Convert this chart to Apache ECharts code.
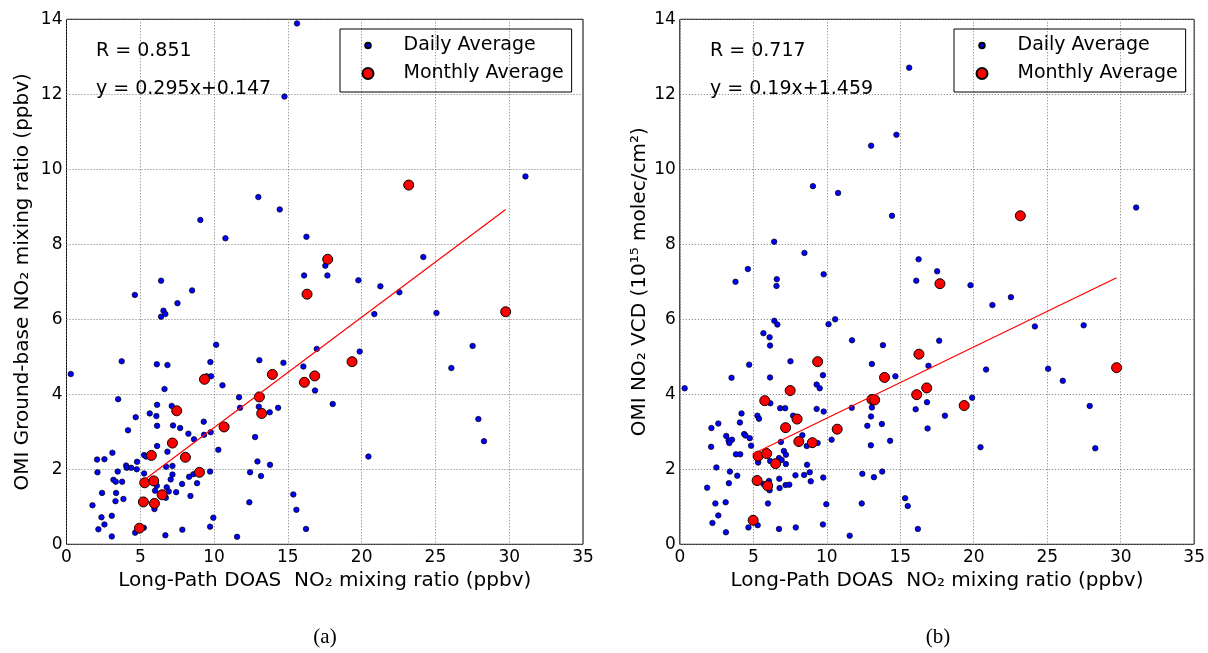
<!DOCTYPE html>
<html><head><meta charset="utf-8">
<script src="https://cdn.jsdelivr.net/npm/echarts@6/dist/echarts.min.js"></script>
<style>html,body{margin:0;padding:0;background:#fff}#c{width:1208px;height:653px}</style>
</head><body><div id="c"></div>
<script>
// ---------- data ----------
const xTicks = { min: 0, max: 35, step: 5 };
const yTicks = { min: 0, max: 14, step: 2 };

const dailyA = [[0.29,4.54],[7.52,6.43],[6.41,6.07],[6.57,6.23],[6.70,6.14],[3.74,4.88],[6.12,4.80],[6.84,4.78],[10.14,5.32],[9.75,4.86],[9.50,4.48],[9.80,4.48],[10.57,4.24],[6.64,4.14],[3.50,3.87],[11.69,3.92],[13.07,4.91],[14.70,4.84],[16.05,4.74],[16.84,4.10],[11.76,3.64],[13.03,3.67],[13.77,3.52],[14.34,3.64],[6.14,3.72],[5.64,3.49],[6.09,3.42],[7.13,3.69],[4.69,3.39],[6.14,3.16],[7.22,3.17],[7.70,3.10],[4.17,3.04],[8.26,2.95],[8.64,2.80],[9.30,3.27],[9.32,2.92],[9.77,2.99],[6.14,2.62],[6.84,2.47],[10.29,2.52],[12.78,2.86],[3.11,2.44],[5.26,2.38],[5.39,2.34],[2.07,2.26],[2.57,2.27],[4.78,2.20],[4.04,2.10],[4.08,2.04],[4.38,2.04],[4.76,2.00],[2.10,1.92],[3.47,1.94],[5.26,1.89],[7.18,2.09],[7.18,1.86],[6.75,2.07],[9.73,1.94],[12.94,2.21],[13.79,2.12],[12.44,1.92],[13.18,1.82],[8.31,1.80],[8.60,1.87],[8.85,1.63],[7.83,1.61],[7.06,1.73],[3.18,1.72],[3.34,1.67],[3.77,1.67],[6.12,1.56],[6.79,1.52],[6.00,1.43],[6.93,1.41],[7.43,1.39],[2.41,1.37],[3.36,1.37],[8.40,1.29],[3.86,1.21],[3.32,1.15],[6.73,1.24],[1.76,1.04],[12.39,1.12],[15.37,1.33],[15.58,0.92],[5.96,0.94],[2.37,0.72],[3.07,0.76],[9.95,0.71],[2.57,0.53],[2.16,0.40],[4.65,0.31],[5.24,0.44],[7.85,0.39],[9.73,0.47],[3.07,0.21],[6.70,0.24],[11.56,0.20],[16.23,0.41],[16.96,5.21],
[15.62,13.89],[14.77,11.94],[13.00,9.26],[14.45,8.93],[9.07,8.65],[10.77,8.16],[16.26,8.20],[31.10,9.81],[24.18,7.66],[16.10,7.17],[17.54,7.43],[17.68,7.17],[19.78,7.04],[21.27,6.88],[22.56,6.72],[4.63,6.65],[6.41,7.03],[8.51,6.77],
[20.86,6.14],[25.07,6.17],[19.87,5.14],[27.52,5.29],[26.08,4.70],[18.04,3.74],[27.91,3.34],[28.29,2.75],[20.46,2.34]];

const monthlyA = [[4.94,0.43],[5.21,1.13],[5.30,1.64],[5.75,2.37],[5.91,1.69],[5.96,1.09],[6.48,1.32],[7.18,2.70],[7.47,3.56],[8.06,2.32],[9.01,1.92],[9.35,4.40],[10.68,3.13],[13.07,3.93],[13.23,3.49],[13.95,4.53],[16.12,4.32],[16.82,4.49],[16.30,6.67],[17.70,7.60],[19.35,4.87],[23.19,9.58],[29.76,6.20]];

const fitA = [[4.94,1.62],[29.76,8.93]];

const dailyB = [[0.33,4.16],[6.43,5.96],[6.64,5.86],[5.69,5.63],[6.11,5.52],[6.14,5.30],[10.12,5.87],[10.57,6.00],[11.72,5.44],[13.82,5.31],[4.72,4.79],[7.53,4.88],[13.07,4.81],[3.52,4.44],[6.14,4.45],[9.74,4.51],[9.31,4.26],[9.52,4.16],[14.67,4.48],[16.92,4.76],[6.16,3.76],[6.83,3.63],[7.17,3.63],[9.31,3.61],[9.79,3.54],[11.70,3.64],[13.07,3.65],[13.01,3.41],[13.75,3.21],[12.76,3.16],[5.28,3.43],[5.39,3.35],[4.20,3.49],[4.09,3.25],[2.62,3.22],[2.15,3.10],[7.71,3.43],[8.34,2.91],[6.88,2.73],[3.16,2.89],[3.32,2.77],[3.55,2.79],[3.37,2.70],[4.38,2.94],[4.47,2.90],[4.76,2.83],[4.85,2.63],[2.13,2.60],[3.82,2.40],[4.11,2.40],[7.08,2.49],[7.22,2.39],[8.64,2.62],[9.38,2.70],[10.33,2.79],[13.00,2.64],[14.31,2.76],[2.49,2.05],[3.41,1.94],[3.91,1.83],[5.33,2.18],[6.15,2.22],[6.75,2.30],[6.93,2.25],[7.22,2.14],[8.66,2.12],[8.84,1.92],[7.87,1.84],[8.46,1.85],[8.91,1.68],[9.76,1.78],[12.42,1.88],[13.21,1.79],[13.77,1.94],[1.86,1.51],[3.34,1.63],[5.69,1.61],[6.07,1.69],[6.11,1.44],[6.77,1.75],[6.79,1.50],[7.20,1.58],[7.45,1.59],[2.42,1.09],[3.12,1.12],[6.00,1.09],[9.97,1.07],[12.38,1.09],[15.33,1.23],[15.51,1.02],[2.62,0.77],[2.22,0.57],[3.14,0.32],[4.67,0.45],[5.30,0.51],[6.75,0.41],[7.89,0.45],[9.74,0.53],[11.56,0.23],[16.20,0.41],[16.82,3.79],[16.86,3.09],[16.05,3.60],
[15.61,12.71],[14.74,10.92],[13.02,10.63],[9.06,9.55],[10.77,9.37],[14.44,8.76],[31.05,8.98],[6.42,8.07],[8.48,7.77],[4.63,7.34],[3.79,7.00],[6.60,7.07],[6.58,6.89],[9.79,7.20],[16.25,7.60],[17.51,7.28],[16.09,7.03],[19.78,6.91],[22.53,6.59],
[21.27,6.38],[24.16,5.81],[27.48,5.84],[17.65,5.43],[20.84,4.66],[25.06,4.68],[26.06,4.36],[19.89,3.91],[18.04,3.43],[27.89,3.69],[20.46,2.59],[28.27,2.56]];

const monthlyB = [[4.99,0.64],[5.26,1.70],[5.33,2.35],[5.78,3.83],[5.91,2.42],[5.98,1.56],[6.52,2.15],[7.20,3.11],[7.51,4.10],[7.98,3.34],[8.10,2.74],[9.02,2.71],[9.38,4.87],[10.71,3.07],[13.07,3.86],[13.26,3.85],[13.93,4.45],[16.12,3.99],[16.27,5.07],[16.80,4.17],[17.70,6.95],[19.35,3.70],[23.17,8.76],[29.72,4.71]];

const fitB = [[4.94,2.40],[29.72,7.11]];

const seriesNames = ['Daily Average', 'Monthly Average'];
const statsA = ['R = 0.851', 'y = 0.295x+0.147'];
const statsB = ['R = 0.717', 'y = 0.19x+1.459'];
const xTitle = 'Long-Path DOAS  NO\u2082 mixing ratio (ppbv)';
const yTitleA = 'OMI Ground-base NO\u2082 mixing ratio (ppbv)';
const yTitleB = 'OMI NO\u2082 VCD (10\u00b9\u2075 molec/cm\u00b2)';
const captions = ['(a)', '(b)'];

// ---------- chart ----------
const FONT = 'DejaVu Sans';
const grids = [
  { left: 66.5, top: 19.3, width: 516.5, height: 525, show: true, borderColor: '#000', borderWidth: 1, backgroundColor: 'transparent' },
  { left: 679.8, top: 19.3, width: 516.5, height: 525, show: true, borderColor: '#000', borderWidth: 1, backgroundColor: 'transparent' }
];
function xAx(i) {
  return {
    type: 'value', gridIndex: i, min: xTicks.min, max: xTicks.max, interval: xTicks.step,
    name: xTitle, nameLocation: 'middle', nameGap: 24,
    nameTextStyle: { fontFamily: FONT, fontSize: 20, color: '#000' },
    axisLine: { show: false }, axisTick: { show: false },
    axisLabel: { fontFamily: FONT, fontSize: 17, color: '#000', margin: 5 },
    splitLine: { show: true, lineStyle: { color: '#777', type: [1, 2], width: 1 } }
  };
}
function yAx(i, title) {
  return {
    type: 'value', gridIndex: i, min: yTicks.min, max: yTicks.max, interval: yTicks.step,
    name: title, nameLocation: 'middle', nameGap: i === 0 ? 34 : 30,
    nameTextStyle: { fontFamily: FONT, fontSize: 20, color: '#000' },
    axisLine: { show: false }, axisTick: { show: false },
    axisLabel: { fontFamily: FONT, fontSize: 17, color: '#000', margin: 4 },
    splitLine: { show: true, lineStyle: { color: '#777', type: [1, 2], width: 1 } }
  };
}
// small-dot legend icon: circle drawn inside a larger invisible box
const smallDot = 'path://M0,0M22,22M5.5,11a5.5,5.5 0 1,0 11,0a5.5,5.5 0 1,0 -11,0z';
function legend(left) {
  return {
    left: left, top: 29, orient: 'vertical',
    padding: [7, 8, 9, 21.5], itemGap: 9, itemWidth: 11, itemHeight: 11,
    borderColor: '#000', borderWidth: 1, borderRadius: 0,
    selectedMode: false,
    textStyle: { fontFamily: FONT, fontSize: 19, color: '#000', padding: [0, 0, 0, 25] },
    data: [{ name: seriesNames[0], icon: smallDot }, { name: seriesNames[1], icon: 'circle' }]
  };
}
function scatter(name, data, i, size, color, z) {
  return {
    type: 'scatter', name: name, xAxisIndex: i, yAxisIndex: i, data: data,
    symbol: 'circle', symbolSize: size, z: z,
    itemStyle: { color: color, borderColor: '#000', borderWidth: size > 8 ? 1 : 0.7, opacity: 1 }
  };
}
function fit(data, i) {
  return {
    type: 'line', name: 'fit', xAxisIndex: i, yAxisIndex: i, data: data,
    showSymbol: false, symbol: 'none', z: 5, silent: true,
    lineStyle: { color: '#ff0000', width: 1.2 }
  };
}
function txt(x, y, s, font, size, align) {
  return { type: 'text', x: x, y: y, style: { text: s, fontFamily: font, fontSize: size, fill: '#000', align: align || 'left', verticalAlign: 'middle' } };
}
const option = {
  animation: false,
  backgroundColor: '#fff',
  grid: grids,
  xAxis: [xAx(0), xAx(1)],
  yAxis: [yAx(0, yTitleA), yAx(1, yTitleB)],
  legend: [legend(340), legend(954)],
  series: [
    scatter(seriesNames[0], dailyA, 0, 5.5, '#0000ff', 2),
    scatter(seriesNames[1], monthlyA, 0, 10, '#ff0000', 3),
    fit(fitA, 0),
    scatter(seriesNames[0], dailyB, 1, 5.5, '#0000ff', 2),
    scatter(seriesNames[1], monthlyB, 1, 10, '#ff0000', 3),
    fit(fitB, 1)
  ],
  graphic: [
    txt(96, 51, statsA[0], FONT, 19), txt(96, 89, statsA[1], FONT, 19),
    txt(710, 51, statsB[0], FONT, 19), txt(710, 89, statsB[1], FONT, 19),
    txt(325, 637, captions[0], 'Liberation Serif', 21, 'center'),
    txt(938, 637, captions[1], 'Liberation Serif', 21, 'center')
  ]
};
const chart = echarts.init(document.getElementById('c'), null, { renderer: 'canvas' });
chart.setOption(option);
</script></body></html>
